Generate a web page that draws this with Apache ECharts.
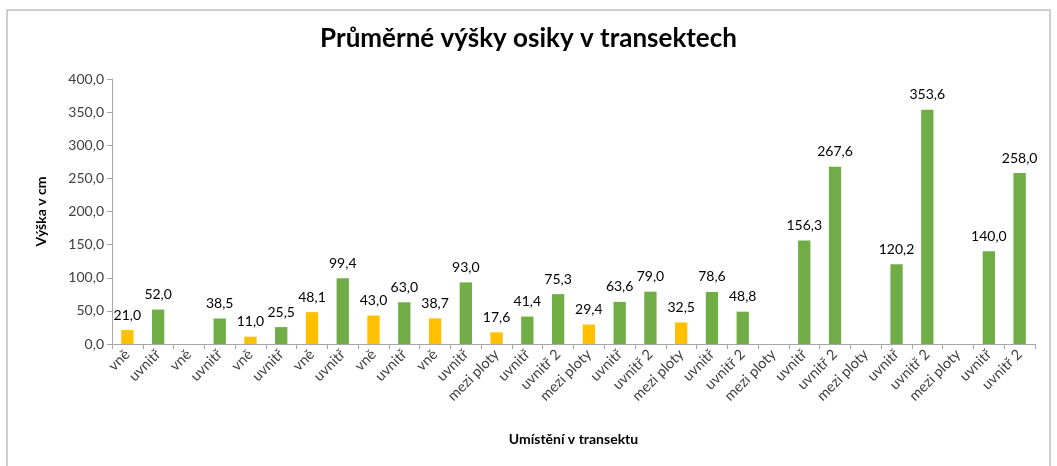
<!DOCTYPE html>
<html lang="cs">
<head>
    <meta charset="utf-8"/>
    <title>Průměrné výšky osiky v transektech</title>
    <script src="https://cdn.jsdelivr.net/npm/echarts@6/dist/echarts.min.js"></script>
</head>
<body style="margin:0;background:#fff">
<div id="echarts" style="width:1057px;height:466px;"></div>
<script type="text/javascript">
    // umístění v transektu (osa x)
    var categories = ['vně', 'uvnitř', 'vně', 'uvnitř', 'vně', 'uvnitř', 'vně', 'uvnitř', 'vně', 'uvnitř',
        'vně', 'uvnitř', 'mezi ploty', 'uvnitř', 'uvnitř 2', 'mezi ploty', 'uvnitř', 'uvnitř 2', 'mezi ploty', 'uvnitř',
        'uvnitř 2', 'mezi ploty', 'uvnitř', 'uvnitř 2', 'mezi ploty', 'uvnitř', 'uvnitř 2', 'mezi ploty', 'uvnitř', 'uvnitř 2'];
    // průměrná výška v cm (null = bez hodnoty)
    var heights = [21.0, 52.0, null, 38.5, 11.0, 25.5, 48.1, 99.4, 43.0, 63.0,
        38.7, 93.0, 17.6, 41.4, 75.3, 29.4, 63.6, 79.0, 32.5, 78.6,
        48.8, null, 156.3, 267.6, null, 120.2, 353.6, null, 140.0, 258.0];
    var yTicks = [0, 50, 100, 150, 200, 250, 300, 350, 400];

    var yellow = '#FFC000', green = '#70AD47';
    var font = 'Lato, "Open Sans", sans-serif';

    var data = [];
    for (var i = 0; i < heights.length; i++) {
        var c = categories[i];
        data.push({
            value: heights[i],
            itemStyle: {color: (c === 'vně' || c === 'mezi ploty') ? yellow : green}
        });
    }

    var myChart = echarts.init(document.getElementById('echarts'));
    var option = {
        animation: false,
        textStyle: {fontFamily: font},
        //rámeček grafu
        graphic: [{
            type: 'rect',
            shape: {x: 7, y: 10, width: 1043, height: 470},
            style: {fill: 'none', stroke: '#BFBFBF', lineWidth: 1.5}
        }],
        title: {
            text: 'Průměrné výšky osiky v transektech',
            left: 'center',
            top: 21,
            textStyle: {fontFamily: font, fontSize: 26, fontWeight: 'bold', color: '#000'}
        },
        grid: {left: 112, right: 22, top: 79, bottom: 122},
        xAxis: {
            type: 'category',
            data: categories,
            name: 'Umístění v transektu',
            nameLocation: 'middle',
            nameGap: 88,
            nameTextStyle: {fontFamily: font, fontSize: 14, fontWeight: 'bold', color: '#000'},
            axisLine: {lineStyle: {color: '#A6A6A6'}},
            axisTick: {show: true, alignWithLabel: false, length: 5, lineStyle: {color: '#A6A6A6'}},
            axisLabel: {rotate: 45, interval: 0, fontSize: 14.5, color: '#404040', margin: 8}
        },
        yAxis: {
            type: 'value',
            min: yTicks[0],
            max: yTicks[yTicks.length - 1],
            interval: 50,
            name: 'Výška v cm',
            nameLocation: 'middle',
            nameGap: 64,
            nameTextStyle: {fontFamily: font, fontSize: 14, fontWeight: 'bold', color: '#000'},
            axisLine: {show: true, lineStyle: {color: '#A6A6A6'}},
            axisTick: {show: true, length: 5, lineStyle: {color: '#A6A6A6'}},
            splitLine: {show: false},
            axisLabel: {
                fontSize: 14, color: '#404040',
                formatter: function (v) { return v.toFixed(1).replace('.', ','); }
            }
        },
        series: [{
            type: 'bar',
            data: data,
            barWidth: '40%',
            label: {
                show: true,
                position: 'top',
                distance: 8,
                fontSize: 14,
                color: '#000',
                formatter: function (p) { return p.value == null ? '' : p.value.toFixed(1).replace('.', ','); }
            }
        }]
    };
    myChart.setOption(option);
</script>
</body>
</html>
